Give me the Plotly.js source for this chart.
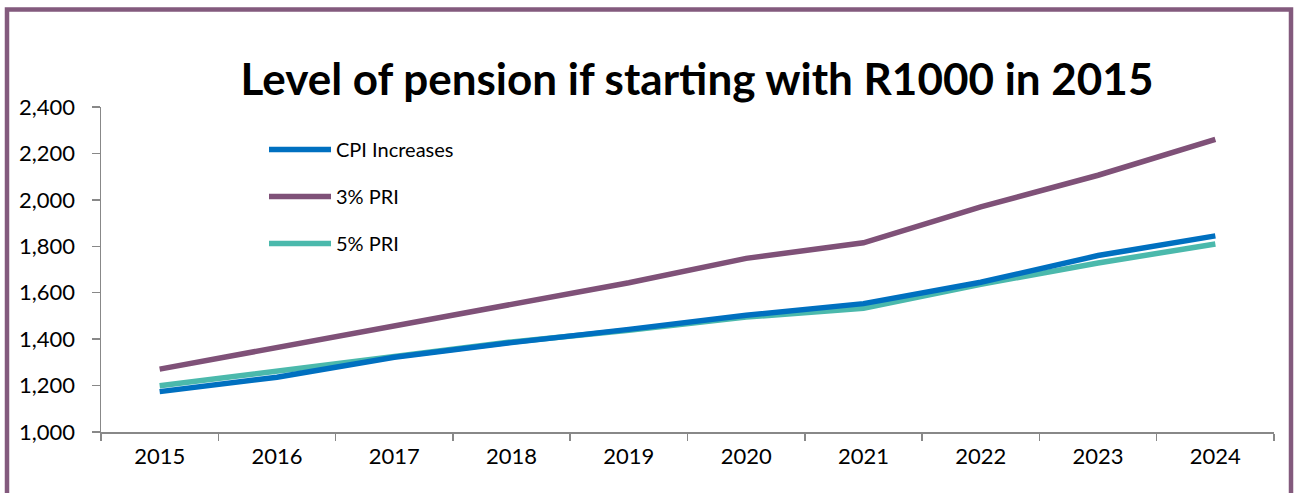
<!DOCTYPE html>
<html>
<head>
<meta charset="utf-8">
<script src="https://cdn.plot.ly/plotly-3.0.1.min.js"></script>
<style>
html,body{margin:0;padding:0;background:#fff;}
#chart{width:1294px;height:493px;}
</style>
</head>
<body>
<div id="chart"></div>
<script>
const years = ['2015','2016','2017','2018','2019','2020','2021','2022','2023','2024'];
const cpiIncreases = [1174, 1236, 1322, 1385, 1442, 1503, 1553, 1645, 1760, 1845];
const pri3 = [1271, 1365, 1460, 1552, 1643, 1748, 1815, 1970, 2106, 2261];
const pri5 = [1199, 1261, 1325, 1388, 1438, 1495, 1533, 1636, 1728, 1810];
const seriesNames = ['CPI Increases', '3% PRI', '5% PRI'];
const seriesColors = ['#0070C0', '#7F5178', '#4BB9AC'];
const yTicks = [1000, 1200, 1400, 1600, 1800, 2000, 2200, 2400];
const yTickLabels = ['1,000', '1,200', '1,400', '1,600', '1,800', '2,000', '2,200', '2,400'];
const titleText = 'Level of pension if starting with R1000 in 2015';

const seriesValues = [cpiIncreases, pri3, pri5];
const traces = seriesValues.map((vals, i) => ({
  type: 'scatter',
  mode: 'lines',
  x: years,
  y: vals,
  name: seriesNames[i],
  legendgroup: 'g' + i,
  line: {color: seriesColors[i], width: 5.5, shape: 'linear'},
  hoverinfo: 'x+y+name'
}));
const ordered = [traces[1], traces[2], traces[0]];
ordered[0].legendrank = 2; ordered[1].legendrank = 3; ordered[2].legendrank = 1;

const FONT = 'Lato, "Open Sans", sans-serif';
const layout = {
  width: 1294,
  height: 493,
  margin: {l: 101, r: 20, t: 107, b: 61, pad: 0},
  paper_bgcolor: '#ffffff',
  plot_bgcolor: '#ffffff',
  font: {family: FONT, color: '#000000', size: 22},
  title: {
    text: '<b>' + titleText + '</b>',
    font: {family: FONT, size: 44, color: '#000000'},
    x: 697 / 1294, xanchor: 'center', xref: 'container',
    y: 1 - 80 / 493, yanchor: 'middle', yref: 'container'
  },
  xaxis: {
    type: 'category',
    range: [-0.5, years.length - 0.5],
    showgrid: false,
    zeroline: false,
    showline: true,
    linecolor: '#888888',
    linewidth: 1.5,
    ticks: 'outside',
    tickson: 'boundaries',
    ticklen: 7,
    tickcolor: '#888888',
    tickwidth: 1.5,
    tickfont: {family: FONT, size: 22, color: '#000000'},
    ticklabelstandoff: 4
  },
  yaxis: {
    range: [1000, 2400],
    tickvals: yTicks,
    ticktext: yTickLabels,
    showgrid: false,
    zeroline: false,
    showline: true,
    linecolor: '#888888',
    linewidth: 1.5,
    ticks: 'outside',
    ticklen: 8,
    tickcolor: '#888888',
    tickwidth: 1.5,
    tickfont: {family: FONT, size: 22, color: '#000000'},
    ticklabelstandoff: 12
  },
  showlegend: true,
  legend: {
    x: (264 - 101) / 1173,
    xanchor: 'left',
    y: (432.3 - 130) / 325.3,
    yanchor: 'top',
    bgcolor: 'rgba(0,0,0,0)',
    font: {family: FONT, size: 20, color: '#000000'},
    traceorder: 'grouped',
    tracegroupgap: 18,
    itemwidth: 62
  },
  shapes: [{
    type: 'rect',
    xref: 'paper', yref: 'paper',
    x0: (7 - 101) / 1173, x1: (1291 - 101) / 1173,
    y0: (432.3 - 560) / 325.3, y1: (432.3 - 9.5) / 325.3,
    line: {color: '#835A7D', width: 4.5},
    fillcolor: 'rgba(0,0,0,0)',
    layer: 'above'
  }]
};

Plotly.newPlot('chart', ordered, layout, {displayModeBar: false, staticPlot: true});
</script>
</body>
</html>
